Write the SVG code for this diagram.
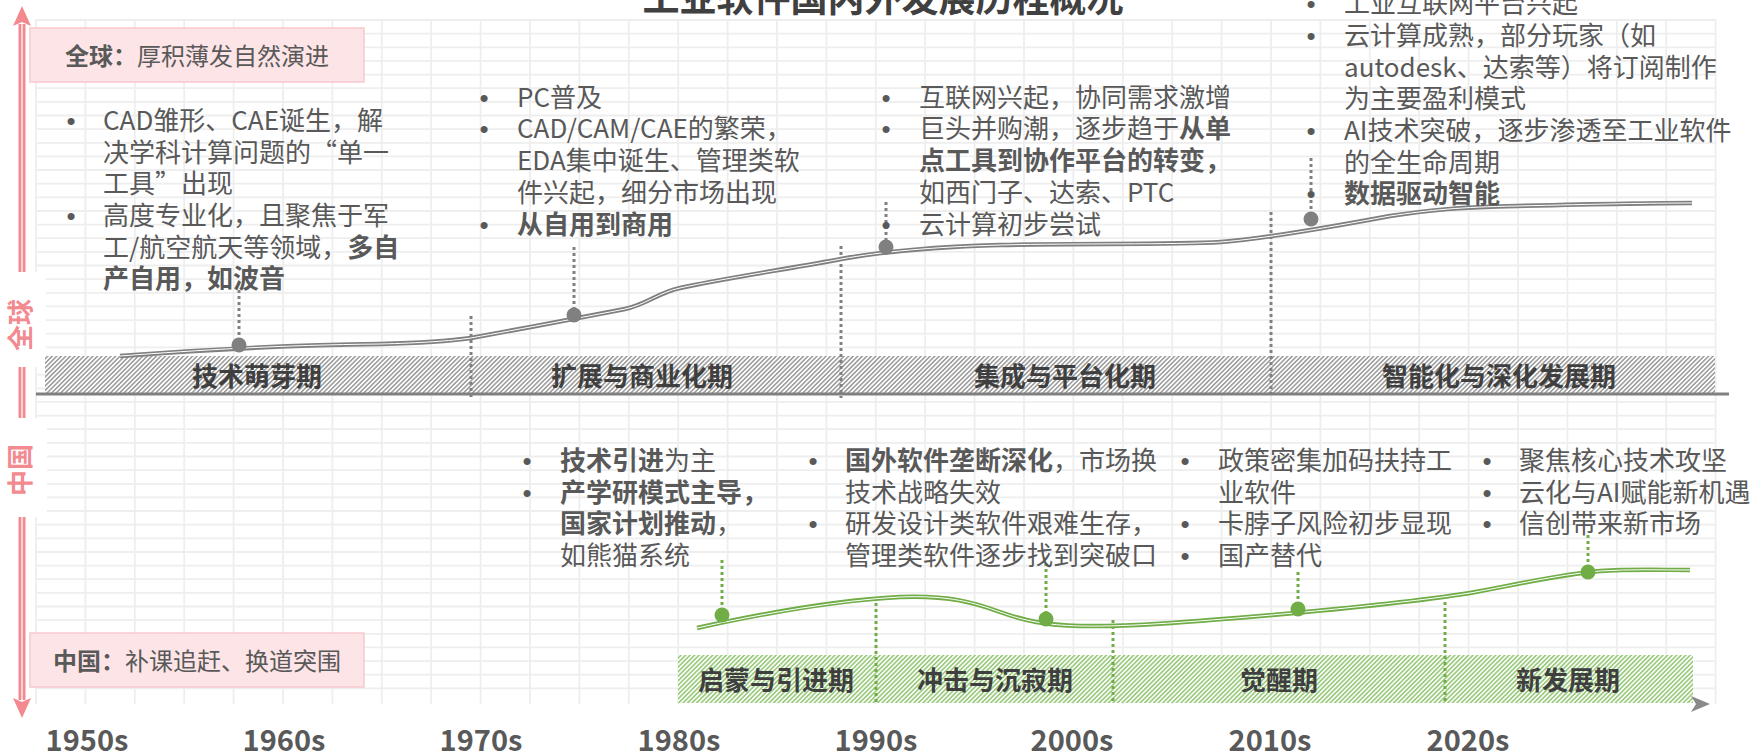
<svg xmlns="http://www.w3.org/2000/svg" width="1759" height="754" viewBox="0 0 1759 754">
<defs>
<style>
.t{font-family:"Noto Sans CJK SC","Noto Sans",sans-serif;font-size:26px;fill:#595959}
.b{font-weight:bold}
.bl{font-family:"Liberation Sans",sans-serif;text-anchor:middle}
.ph{font-family:"Noto Sans CJK SC",sans-serif;font-size:26px;font-weight:bold;fill:#3f3f3f;text-anchor:middle}
.yr{font-family:"Noto Sans CJK SC",sans-serif;font-size:29px;font-weight:bold;fill:#595959;text-anchor:middle}
.bx{font-family:"Noto Sans CJK SC",sans-serif;font-size:24px;fill:#595959;text-anchor:middle}
.side{font-family:"Noto Sans CJK SC",sans-serif;font-size:26px;font-weight:bold;fill:#F28A8F;text-anchor:middle}
.grid{stroke:#eeeeee;stroke-width:1.8;fill:none}
.dg{stroke:#808080;stroke-width:3;stroke-dasharray:3 3;fill:none}
.dgr{stroke:#70AD47;stroke-width:3;stroke-dasharray:3 3;fill:none}
.box{fill:#FDE4E6;stroke:#F8C9CD;stroke-width:1.5}
</style>
<pattern id="hg" patternUnits="userSpaceOnUse" width="3.2" height="3.2" patternTransform="rotate(45)">
<rect width="3.2" height="3.2" fill="#fff"/><rect width="1.5" height="3.2" fill="#999999"/>
</pattern>
<pattern id="hgr" patternUnits="userSpaceOnUse" width="3.2" height="3.2" patternTransform="rotate(45)">
<rect width="3.2" height="3.2" fill="#fff"/><rect width="1.7" height="3.2" fill="#9CCB80"/>
</pattern>
<linearGradient id="axg" x1="0" x2="1" y1="0" y2="0">
<stop offset="0" stop-color="#e2e2e2"/><stop offset="0.6" stop-color="#c8c8c8"/><stop offset="1" stop-color="#8a8a8a"/>
</linearGradient>
<marker id="grayArrow" viewBox="0 0 20 20" refX="12" refY="10" markerWidth="20" markerHeight="20" markerUnits="userSpaceOnUse" orient="auto">
<path d="M1,2 L20,10 L1,18 L6,10 Z" fill="#8a8a8a"/>
</marker>
</defs>
<rect width="1759" height="754" fill="#ffffff"/>

<g id="grid">
<path class="grid" d="M36,20V704M85.4,20V704M134.8,20V704M184.2,20V704M233.6,20V704M283,20V704M332.4,20V704M381.8,20V704M431.2,20V704M480.6,20V704M530,20V704M579.4,20V704M628.8,20V704M678.2,20V704M727.6,20V704M777,20V704M826.4,20V704M875.8,20V704M925.2,20V704M974.6,20V704M1024,20V704M1073.4,20V704M1122.8,20V704M1172.2,20V704M1221.6,20V704M1271,20V704M1320.4,20V704M1369.8,20V704M1419.2,20V704M1468.6,20V704M1518,20V704M1567.4,20V704M1616.8,20V704M1666.2,20V704M1715.6,20V704"/>
<path class="grid" d="M36,20H1716M36,33.6H1716M36,47.3H1716M36,60.9H1716M36,74.6H1716M36,88.2H1716M36,101.8H1716M36,115.5H1716M36,129.1H1716M36,142.8H1716M36,156.4H1716M36,170H1716M36,183.7H1716M36,197.3H1716M36,211H1716M36,224.6H1716M36,238.2H1716M36,251.9H1716M36,265.5H1716M36,279.2H1716M36,292.8H1716M36,306.4H1716M36,320.1H1716M36,333.7H1716M36,347.4H1716M36,361H1716M36,374.6H1716M36,388.3H1716M36,401.9H1716M36,415.6H1716M36,429.2H1716M36,442.8H1716M36,456.5H1716M36,470.1H1716M36,483.8H1716M36,497.4H1716M36,511H1716M36,524.7H1716M36,538.3H1716M36,552H1716M36,565.6H1716M36,579.2H1716M36,592.9H1716M36,606.5H1716M36,620.2H1716M36,633.8H1716M36,647.4H1716M36,661.1H1716M36,674.7H1716M36,688.4H1716"/>
</g>

<g id="title">
<text x="883" y="12" style="font-family:'Noto Sans CJK SC',sans-serif;font-size:37px;font-weight:bold;fill:#404040;text-anchor:middle">工业软件国内外发展历程概况</text>
</g>

<g id="axis-y">
<line x1="22" y1="24" x2="22" y2="700" stroke="#F28A8F" stroke-width="7"/>
<line x1="22" y1="24" x2="22" y2="700" stroke="#FBD3D6" stroke-width="2"/>
<path d="M22,6 L31,26 L22,22 L13,26 Z" fill="#F28A8F"/>
<path d="M22,718 L31,698 L22,702 L13,698 Z" fill="#F28A8F"/>
<rect x="0" y="272" width="46" height="95" fill="#ffffff"/>
<rect x="0" y="418" width="47" height="99" fill="#ffffff"/>
<text class="side" transform="translate(20,325) rotate(-90)" x="0" y="10">全球</text>
<text class="side" transform="translate(20,470) rotate(-90)" x="0" y="10">中国</text>
</g>

<g id="box-global">
<rect class="box" x="30" y="28" width="334" height="54"/>
<text class="bx" x="197" y="65"><tspan class="b">全球：</tspan>厚积薄发自然演进</text>
</g>
<g id="box-china">
<rect class="box" x="30" y="633" width="334" height="54"/>
<text class="bx" x="197" y="670"><tspan class="b">中国：</tspan>补课追赶、换道突围</text>
</g>

<g id="band-global">
<rect x="45" y="356" width="1670" height="38" fill="url(#hg)"/>
<line x1="36" y1="394" x2="1729" y2="394" stroke="#808080" stroke-width="3"/>
</g>
<g id="band-china">
<rect x="678" y="655" width="1015" height="48" fill="url(#hgr)"/>
<line x1="36" y1="704" x2="1702" y2="704" stroke="url(#axg)" stroke-width="3.5" marker-end="url(#grayArrow)"/>
</g>

<g id="connectors">
<line class="dg" x1="471" y1="316" x2="471" y2="398"/>
<line class="dg" x1="841" y1="246" x2="841" y2="398"/>
<line class="dg" x1="1271" y1="212" x2="1271" y2="398"/>
<line class="dgr" x1="876" y1="603" x2="876" y2="703"/>
<line class="dgr" x1="1113" y1="620" x2="1113" y2="703"/>
<line class="dgr" x1="1445" y1="602" x2="1445" y2="703"/>
<line class="dg" x1="239" y1="290" x2="239" y2="340"/>
<line class="dg" x1="574" y1="247" x2="574" y2="310"/>
<line class="dg" x1="886" y1="202" x2="886" y2="242"/>
<line class="dg" x1="1311" y1="158" x2="1311" y2="214"/>
<line class="dgr" x1="722" y1="560" x2="722" y2="610"/>
<line class="dgr" x1="1046" y1="563" x2="1046" y2="614"/>
<line class="dgr" x1="1298" y1="572" x2="1298" y2="604"/>
<line class="dgr" x1="1588" y1="535" x2="1588" y2="567"/>
</g>

<g id="curve-global">
<path d="M120,356 C200,350 280,345 380,344 C420,343 450,341 471,338 C520,329 590,316 625,309 C645,305 660,292 680,288 C720,279 800,267 841,259 C880,252 930,247 1000,245 C1080,243 1170,245 1221,242 C1260,239 1320,229 1390,216 C1430,210 1460,207 1517,206 C1600,204 1650,203 1692,203" fill="none" stroke="#7f7f7f" stroke-width="4.5"/>
<path d="M120,356 C200,350 280,345 380,344 C420,343 450,341 471,338 C520,329 590,316 625,309 C645,305 660,292 680,288 C720,279 800,267 841,259 C880,252 930,247 1000,245 C1080,243 1170,245 1221,242 C1260,239 1320,229 1390,216 C1430,210 1460,207 1517,206 C1600,204 1650,203 1692,203" fill="none" stroke="#ffffff" stroke-width="1"/>
<circle cx="239" cy="345" r="7.5" fill="#808080"/>
<circle cx="574" cy="315" r="7.5" fill="#808080"/>
<circle cx="886" cy="247" r="7.5" fill="#808080"/>
<circle cx="1311" cy="219" r="7.5" fill="#808080"/>
</g>

<g id="curve-china">
<path d="M697,628 C760,614 840,600 900,597 C950,595 975,603 1000,612 C1025,621 1045,625 1080,626 C1130,627 1200,621 1260,616 C1330,610 1420,601 1470,593 C1510,586 1555,575 1600,571 C1630,569 1660,570 1690,570" fill="none" stroke="#70AD47" stroke-width="4.5"/>
<path d="M697,628 C760,614 840,600 900,597 C950,595 975,603 1000,612 C1025,621 1045,625 1080,626 C1130,627 1200,621 1260,616 C1330,610 1420,601 1470,593 C1510,586 1555,575 1600,571 C1630,569 1660,570 1690,570" fill="none" stroke="#ffffff" stroke-width="1"/>
<circle cx="722" cy="615" r="7.5" fill="#70AD47"/>
<circle cx="1046" cy="619" r="7.5" fill="#70AD47"/>
<circle cx="1298" cy="609" r="7.5" fill="#70AD47"/>
<circle cx="1588" cy="572" r="7.5" fill="#70AD47"/>
</g>

<g id="phase-global-1"><text class="ph" x="257" y="386">技术萌芽期</text></g>
<g id="phase-global-2"><text class="ph" x="642" y="386">扩展与商业化期</text></g>
<g id="phase-global-3"><text class="ph" x="1065" y="386">集成与平台化期</text></g>
<g id="phase-global-4"><text class="ph" x="1499" y="386">智能化与深化发展期</text></g>
<g id="phase-china-1"><text class="ph" x="776" y="690">启蒙与引进期</text></g>
<g id="phase-china-2"><text class="ph" x="995" y="690">冲击与沉寂期</text></g>
<g id="phase-china-3"><text class="ph" x="1279" y="690">觉醒期</text></g>
<g id="phase-china-4"><text class="ph" x="1568" y="690">新发展期</text></g>

<g id="note-global-1">
<text class="t bl" x="71" y="130">•</text>
<text class="t" x="103" y="130">CAD雏形、CAE诞生，解</text>
<text class="t" x="103" y="162">决学科计算问题的“单一</text>
<text class="t" x="103" y="193">工具”出现</text>
<text class="t bl" x="71" y="225">•</text>
<text class="t" x="103" y="225">高度专业化，且聚焦于军</text>
<text class="t" x="103" y="257">工/航空航天等领域，<tspan class="b">多自</tspan></text>
<text class="t b" x="103" y="288">产自用，如波音</text>
</g>

<g id="note-global-2">
<text class="t bl" x="484" y="107">•</text>
<text class="t" x="517" y="107">PC普及</text>
<text class="t bl" x="484" y="138">•</text>
<text class="t" x="517" y="138">CAD/CAM/CAE的繁荣，</text>
<text class="t" x="517" y="170">EDA集中诞生、管理类软</text>
<text class="t" x="517" y="202">件兴起，细分市场出现</text>
<text class="t bl" x="484" y="234">•</text>
<text class="t b" x="517" y="234">从自用到商用</text>
</g>

<g id="note-global-3">
<text class="t bl" x="886" y="107">•</text>
<text class="t" x="919" y="107">互联网兴起，协同需求激增</text>
<text class="t bl" x="886" y="138">•</text>
<text class="t" x="919" y="138">巨头并购潮，逐步趋于<tspan class="b">从单</tspan></text>
<text class="t b" x="919" y="170">点工具到协作平台的转变，</text>
<text class="t" x="919" y="202">如西门子、达索、PTC</text>
<text class="t bl" x="886" y="234">•</text>
<text class="t" x="919" y="234">云计算初步尝试</text>
</g>

<g id="note-global-4">
<text class="t bl" x="1311" y="13">•</text>
<text class="t" x="1344" y="13">工业互联网平台兴起</text>
<text class="t bl" x="1311" y="45">•</text>
<text class="t" x="1344" y="45">云计算成熟，部分玩家（如</text>
<text class="t" x="1344" y="77">autodesk、达索等）将订阅制作</text>
<text class="t" x="1344" y="108">为主要盈利模式</text>
<text class="t bl" x="1311" y="140">•</text>
<text class="t" x="1344" y="140">AI技术突破，逐步渗透至工业软件</text>
<text class="t" x="1344" y="172">的全生命周期</text>
<text class="t bl" x="1311" y="203">•</text>
<text class="t b" x="1344" y="203">数据驱动智能</text>
</g>

<g id="note-china-1">
<text class="t bl" x="527" y="470">•</text>
<text class="t" x="560" y="470"><tspan class="b">技术引进</tspan>为主</text>
<text class="t bl" x="527" y="502">•</text>
<text class="t b" x="560" y="502">产学研模式主导，</text>
<text class="t" x="560" y="533"><tspan class="b">国家计划推动</tspan>，</text>
<text class="t" x="560" y="565">如熊猫系统</text>
</g>

<g id="note-china-2">
<text class="t bl" x="813" y="470">•</text>
<text class="t" x="845" y="470"><tspan class="b">国外软件垄断深化</tspan>，市场换</text>
<text class="t" x="845" y="502">技术战略失效</text>
<text class="t bl" x="813" y="533">•</text>
<text class="t" x="845" y="533">研发设计类软件艰难生存，</text>
<text class="t" x="845" y="565">管理类软件逐步找到突破口</text>
</g>

<g id="note-china-3">
<text class="t bl" x="1185" y="470">•</text>
<text class="t" x="1218" y="470">政策密集加码扶持工</text>
<text class="t" x="1218" y="502">业软件</text>
<text class="t bl" x="1185" y="533">•</text>
<text class="t" x="1218" y="533">卡脖子风险初步显现</text>
<text class="t bl" x="1185" y="565">•</text>
<text class="t" x="1218" y="565">国产替代</text>
</g>

<g id="note-china-4">
<text class="t bl" x="1487" y="470">•</text>
<text class="t" x="1519" y="470">聚焦核心技术攻坚</text>
<text class="t bl" x="1487" y="502">•</text>
<text class="t" x="1519" y="502">云化与AI赋能新机遇</text>
<text class="t bl" x="1487" y="533">•</text>
<text class="t" x="1519" y="533">信创带来新市场</text>
</g>

<g id="years">
<text class="yr" x="87" y="751">1950s</text>
<text class="yr" x="284" y="751">1960s</text>
<text class="yr" x="481" y="751">1970s</text>
<text class="yr" x="679" y="751">1980s</text>
<text class="yr" x="876" y="751">1990s</text>
<text class="yr" x="1072" y="751">2000s</text>
<text class="yr" x="1270" y="751">2010s</text>
<text class="yr" x="1468" y="751">2020s</text>
</g>
</svg>
